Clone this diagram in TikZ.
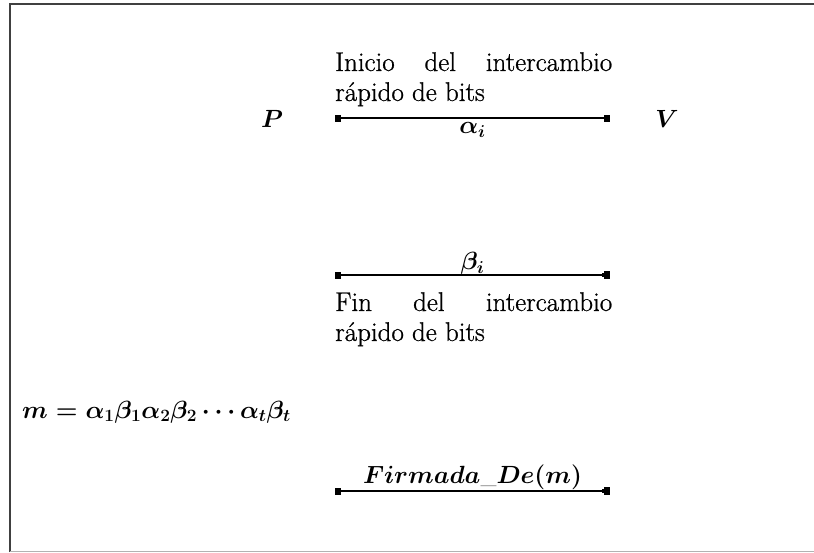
\documentclass[tikz,border=0pt]{standalone}
\usepackage{fontspec}
\newfontfamily\lblfont{Latin Modern Roman}[FakeBold=0.8]
\usetikzlibrary{arrows.meta}
\begin{document}
\begin{tikzpicture}[x=1pt,y=-1pt,
  every node/.style={inner sep=0pt, font=\fontsize{25}{30}\selectfont\boldmath},
  msg/.style={line width=1.6pt, {Square[length=6pt,width=7pt]}-{Square[length=6pt,width=7pt]}},
  msgb/.style={line width=1.6pt, {Square[length=6pt,width=7pt]}-{Square[length=2pt,width=4pt] Square[length=6pt,width=8pt]}},
  lbl/.style={text width=277pt, align=justify, anchor=north west, font=\lblfont\fontsize{27}{30}\selectfont},
  frame/.style={line width=2pt, black!75}
]
\useasboundingbox (0,0) rectangle (814,552);
\draw[frame] (10,552) -- (10,4) -- (814,4);
\draw[line width=1pt, black!30] (10,551.5) -- (814,551.5);

\node[anchor=base] (P) at (272,127) {$P$};
\node[anchor=base] (V) at (667,127) {$V$};

\node[lbl] (inicio) at (335,52) {Inicio del intercambio\linebreak rápido de bits};
\node[lbl] (fin) at (335,292) {Fin del intercambio\linebreak rápido de bits};

\coordinate (a1) at (335,118);
\coordinate (a2) at (610,118);
\coordinate (b1) at (335,275);
\coordinate (b2) at (610,275);
\coordinate (c1) at (335,491);
\coordinate (c2) at (610,491);

\draw[msg] (a1) -- (a2) node[midway, below=4pt] (alpha) {$\alpha_i$};
\draw[msgb] (b1) -- (b2) node[midway, above] (beta) {$\beta_i$};
\draw[msgb] (c1) -- (c2) node[midway, above, font=\fontsize{23}{27}\selectfont\boldmath] (firm) {$Firmada\_De(m)$};

\node[anchor=base west] (m) at (22,418) {$m=\alpha_1\beta_1\alpha_2\beta_2\cdots\alpha_t\beta_t$};
\end{tikzpicture}
\end{document}
